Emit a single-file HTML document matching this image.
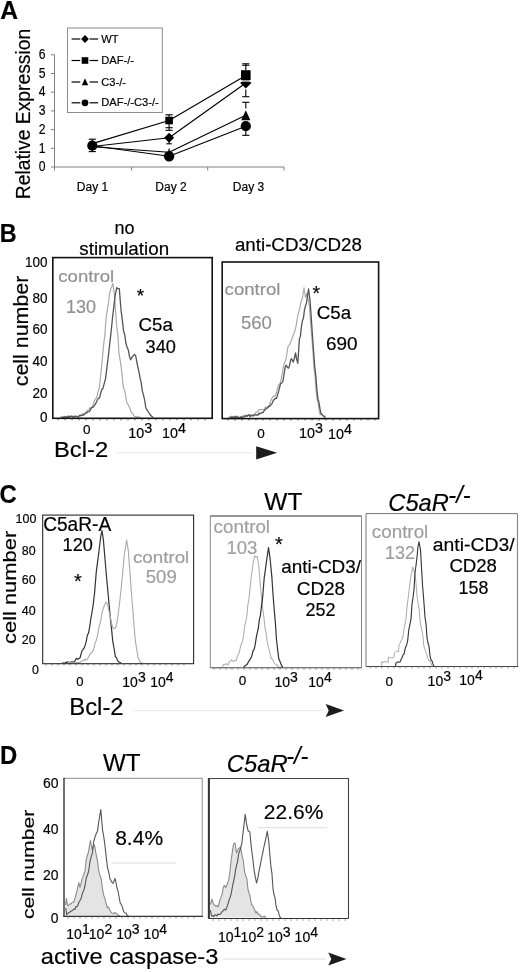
<!DOCTYPE html>
<html><head><meta charset="utf-8"><title>Figure</title>
<style>
html,body{margin:0;padding:0;background:#fff;}
svg{display:block;font-family:'Liberation Sans', sans-serif;}
</style></head><body>
<svg width="520" height="972" viewBox="0 0 520 972">
<rect x="0" y="0" width="520" height="972" fill="#fff"/>
<text transform="translate(0.2 18.8) scale(0.97 1)" font-size="25.4" fill="#000" stroke="#000" stroke-width="0.18" text-anchor="start" font-weight="bold" font-style="normal" >A</text>
<text transform="translate(29.6 114) rotate(-90) scale(0.985 1)" font-size="19.6" fill="#000" stroke="#000" stroke-width="0.18" text-anchor="middle">Relative Expression</text>
<line x1="54.5" y1="54.7" x2="54.5" y2="167" stroke="#808080" stroke-width="1" />
<line x1="54.5" y1="167" x2="284" y2="167" stroke="#808080" stroke-width="1" />
<line x1="51.0" y1="167.0" x2="54.5" y2="167.0" stroke="#808080" stroke-width="1" />
<text transform="translate(42.2 171.2) scale(0.87 1)" font-size="14" fill="#000" stroke="#000" stroke-width="0.18" text-anchor="middle" font-weight="normal" font-style="normal" >0</text>
<line x1="51.0" y1="148.3" x2="54.5" y2="148.3" stroke="#808080" stroke-width="1" />
<text transform="translate(42.2 152.5) scale(0.87 1)" font-size="14" fill="#000" stroke="#000" stroke-width="0.18" text-anchor="middle" font-weight="normal" font-style="normal" >1</text>
<line x1="51.0" y1="129.6" x2="54.5" y2="129.6" stroke="#808080" stroke-width="1" />
<text transform="translate(42.2 133.79999999999998) scale(0.87 1)" font-size="14" fill="#000" stroke="#000" stroke-width="0.18" text-anchor="middle" font-weight="normal" font-style="normal" >2</text>
<line x1="51.0" y1="110.9" x2="54.5" y2="110.9" stroke="#808080" stroke-width="1" />
<text transform="translate(42.2 115.10000000000001) scale(0.87 1)" font-size="14" fill="#000" stroke="#000" stroke-width="0.18" text-anchor="middle" font-weight="normal" font-style="normal" >3</text>
<line x1="51.0" y1="92.2" x2="54.5" y2="92.2" stroke="#808080" stroke-width="1" />
<text transform="translate(42.2 96.4) scale(0.87 1)" font-size="14" fill="#000" stroke="#000" stroke-width="0.18" text-anchor="middle" font-weight="normal" font-style="normal" >4</text>
<line x1="51.0" y1="73.5" x2="54.5" y2="73.5" stroke="#808080" stroke-width="1" />
<text transform="translate(42.2 77.7) scale(0.87 1)" font-size="14" fill="#000" stroke="#000" stroke-width="0.18" text-anchor="middle" font-weight="normal" font-style="normal" >5</text>
<line x1="51.0" y1="54.80000000000001" x2="54.5" y2="54.80000000000001" stroke="#808080" stroke-width="1" />
<text transform="translate(42.2 59.000000000000014) scale(0.87 1)" font-size="14" fill="#000" stroke="#000" stroke-width="0.18" text-anchor="middle" font-weight="normal" font-style="normal" >6</text>
<line x1="131.5" y1="167" x2="131.5" y2="170.5" stroke="#808080" stroke-width="1" />
<line x1="207.7" y1="167" x2="207.7" y2="170.5" stroke="#808080" stroke-width="1" />
<line x1="284" y1="167" x2="284" y2="170.5" stroke="#808080" stroke-width="1" />
<line x1="54.5" y1="167" x2="54.5" y2="170.5" stroke="#808080" stroke-width="1" />
<text x="92.5" y="191.2" font-size="12" fill="#000" stroke="#000" stroke-width="0.18" text-anchor="middle" font-weight="normal" font-style="normal" >Day 1</text>
<text x="171" y="191.2" font-size="12" fill="#000" stroke="#000" stroke-width="0.18" text-anchor="middle" font-weight="normal" font-style="normal" >Day 2</text>
<text x="248.5" y="191.2" font-size="12" fill="#000" stroke="#000" stroke-width="0.18" text-anchor="middle" font-weight="normal" font-style="normal" >Day 3</text>
<path d="M92.3 146.5 L169.1 137.7 L245.8 83.0" stroke="#000" stroke-width="1.15" fill="none" stroke-linejoin="round" />
<path d="M92.3 143.6 L169.1 120.5 L245.8 75.4" stroke="#000" stroke-width="1.15" fill="none" stroke-linejoin="round" />
<path d="M92.3 146.8 L169.1 152.3 L245.8 115.2" stroke="#000" stroke-width="1.15" fill="none" stroke-linejoin="round" />
<path d="M92.3 145.7 L169.1 156.2 L245.8 126.2" stroke="#000" stroke-width="1.15" fill="none" stroke-linejoin="round" />
<line x1="88.7" y1="139.2" x2="95.89999999999999" y2="139.2" stroke="#000" stroke-width="1.1" />
<line x1="88.7" y1="151.6" x2="95.89999999999999" y2="151.6" stroke="#000" stroke-width="1.1" />
<line x1="92.3" y1="139.2" x2="92.3" y2="151.6" stroke="#000" stroke-width="1.1" />
<line x1="165.5" y1="114.8" x2="172.7" y2="114.8" stroke="#000" stroke-width="1.1" />
<line x1="169.1" y1="114.8" x2="169.1" y2="117" stroke="#000" stroke-width="1.1" />
<line x1="165.5" y1="127.7" x2="172.7" y2="127.7" stroke="#000" stroke-width="1.1" />
<line x1="165.5" y1="130.3" x2="172.7" y2="130.3" stroke="#000" stroke-width="1.1" />
<line x1="169.1" y1="124" x2="169.1" y2="130.3" stroke="#000" stroke-width="1.1" />
<line x1="166.29999999999998" y1="143.8" x2="171.9" y2="143.8" stroke="#000" stroke-width="1.1" />
<line x1="169.1" y1="142" x2="169.1" y2="143.8" stroke="#000" stroke-width="1.1" />
<line x1="169.1" y1="148.6" x2="169.1" y2="151" stroke="#000" stroke-width="1.1" />
<line x1="242.20000000000002" y1="63.8" x2="249.4" y2="63.8" stroke="#000" stroke-width="1.1" />
<line x1="242.20000000000002" y1="65.3" x2="249.4" y2="65.3" stroke="#000" stroke-width="1.1" />
<line x1="245.8" y1="63.8" x2="245.8" y2="70" stroke="#000" stroke-width="1.1" />
<line x1="242.20000000000002" y1="96.7" x2="249.4" y2="96.7" stroke="#000" stroke-width="1.1" />
<line x1="245.8" y1="89.5" x2="245.8" y2="96.7" stroke="#000" stroke-width="1.1" />
<line x1="242.20000000000002" y1="102.3" x2="249.4" y2="102.3" stroke="#000" stroke-width="1.1" />
<line x1="245.8" y1="102.3" x2="245.8" y2="108.5" stroke="#000" stroke-width="1.1" />
<line x1="242.20000000000002" y1="135.3" x2="249.4" y2="135.3" stroke="#000" stroke-width="1.1" />
<line x1="245.8" y1="131" x2="245.8" y2="135.3" stroke="#000" stroke-width="1.1" />
<path d="M169.1 149.4 L173.5 159.0 L164.7 159.0 Z" stroke="none" stroke-width="1" fill="#000" stroke-linejoin="round" />
<path d="M245.8 110.2 L250.4 120.2 L241.2 120.2 Z" stroke="none" stroke-width="1" fill="#000" stroke-linejoin="round" />
<path d="M92.3 142.0 L96.8 146.5 L92.3 151.0 L87.8 146.5 Z" stroke="none" stroke-width="1" fill="#000" stroke-linejoin="round" />
<path d="M169.1 132.7 L174.1 137.7 L169.1 142.7 L164.1 137.7 Z" stroke="none" stroke-width="1" fill="#000" stroke-linejoin="round" />
<path d="M245.8 77.4 L251.4 83.0 L245.8 88.6 L240.2 83.0 Z" stroke="none" stroke-width="1" fill="#000" stroke-linejoin="round" />
<rect x="165.29999999999998" y="116.7" width="7.6" height="7.6" fill="#000" />
<rect x="241.0" y="70.2" width="9.6" height="10.2" fill="#000"/>
<rect x="239.8" y="80.4" width="12" height="1.2" fill="#fff"/>
<circle cx="92.3" cy="145.7" r="5.1" fill="#000"/>
<circle cx="169.1" cy="156.2" r="5.2" fill="#000"/>
<circle cx="245.8" cy="126.2" r="5.1" fill="#000"/>
<rect x="67.5" y="28" width="94.8" height="84.5" stroke="#8c8c8c" stroke-width="1" fill="#fff"/>
<line x1="71.6" y1="39" x2="80.3" y2="39" stroke="#000" stroke-width="1.2" />
<line x1="89.6" y1="39" x2="98.1" y2="39" stroke="#000" stroke-width="1.2" />
<path d="M85.0 35.1 L88.9 39.0 L85.0 42.9 L81.1 39.0 Z" stroke="none" stroke-width="1" fill="#000" stroke-linejoin="round" />
<text transform="translate(101.3 42.6) scale(1.05 1)" font-size="10.6" fill="#000" stroke="#000" stroke-width="0.18" text-anchor="start" font-weight="normal" font-style="normal" >WT</text>
<line x1="71.6" y1="60.5" x2="80.3" y2="60.5" stroke="#000" stroke-width="1.2" />
<line x1="89.6" y1="60.5" x2="98.1" y2="60.5" stroke="#000" stroke-width="1.2" />
<rect x="81.7" y="57.2" width="6.6" height="6.6" fill="#000" />
<text transform="translate(101.3 64) scale(1.05 1)" font-size="10.6" fill="#000" stroke="#000" stroke-width="0.18" text-anchor="start" font-weight="normal" font-style="normal" >DAF-/-</text>
<line x1="71.6" y1="82" x2="80.3" y2="82" stroke="#000" stroke-width="1.2" />
<line x1="89.6" y1="82" x2="98.1" y2="82" stroke="#000" stroke-width="1.2" />
<path d="M85.0 78.2 L88.2 85.2 L81.8 85.2 Z" stroke="none" stroke-width="1" fill="#000" stroke-linejoin="round" />
<text transform="translate(101.3 85.6) scale(1.05 1)" font-size="10.6" fill="#000" stroke="#000" stroke-width="0.18" text-anchor="start" font-weight="normal" font-style="normal" >C3-/-</text>
<line x1="71.6" y1="102.8" x2="80.3" y2="102.8" stroke="#000" stroke-width="1.2" />
<line x1="89.6" y1="102.8" x2="98.1" y2="102.8" stroke="#000" stroke-width="1.2" />
<circle cx="85" cy="102.8" r="3.4" fill="#000"/>
<text transform="translate(101.3 106.2) scale(1.05 1)" font-size="10.6" fill="#000" stroke="#000" stroke-width="0.18" text-anchor="start" font-weight="normal" font-style="normal" >DAF-/-C3-/-</text>
<text transform="translate(-0.2 242) scale(0.92 1)" font-size="25.4" fill="#000" stroke="#000" stroke-width="0.18" text-anchor="start" font-weight="bold" font-style="normal" >B</text>
<text x="124.4" y="233.6" font-size="18" fill="#000" stroke="#000" stroke-width="0.18" text-anchor="middle" font-weight="normal" font-style="normal" >no</text>
<text transform="translate(124.2 254.9) scale(1.045 1)" font-size="18" fill="#000" stroke="#000" stroke-width="0.18" text-anchor="middle" font-weight="normal" font-style="normal" >stimulation</text>
<text transform="translate(298.4 251.4) scale(1.04 1)" font-size="18" fill="#000" stroke="#000" stroke-width="0.18" text-anchor="middle" font-weight="normal" font-style="normal" >anti-CD3/CD28</text>
<text transform="translate(28.2 331) rotate(-90) scale(1.035 1)" font-size="20.7" fill="#000" stroke="#000" stroke-width="0.18" text-anchor="middle">cell number</text>
<text transform="translate(47.5 266.9) scale(0.98 1)" font-size="13.8" fill="#000" stroke="#000" stroke-width="0.18" text-anchor="end" font-weight="normal" font-style="normal" >100</text>
<text transform="translate(47.5 302.7) scale(0.98 1)" font-size="13.8" fill="#000" stroke="#000" stroke-width="0.18" text-anchor="end" font-weight="normal" font-style="normal" >80</text>
<text transform="translate(47.5 334.4) scale(0.98 1)" font-size="13.8" fill="#000" stroke="#000" stroke-width="0.18" text-anchor="end" font-weight="normal" font-style="normal" >60</text>
<text transform="translate(47.5 366.2) scale(0.98 1)" font-size="13.8" fill="#000" stroke="#000" stroke-width="0.18" text-anchor="end" font-weight="normal" font-style="normal" >40</text>
<text transform="translate(47.5 398.2) scale(0.98 1)" font-size="13.8" fill="#000" stroke="#000" stroke-width="0.18" text-anchor="end" font-weight="normal" font-style="normal" >20</text>
<text transform="translate(47.5 422.2) scale(0.98 1)" font-size="13.8" fill="#000" stroke="#000" stroke-width="0.18" text-anchor="end" font-weight="normal" font-style="normal" >0</text>
<path d="M60.0 417.3 L61.0 416.9 L62.0 416.5 L63.0 417.3 L64.0 416.2 L65.0 417.3 L66.0 416.9 L67.0 416.2 L68.0 417.2 L69.0 416.1 L70.0 417.0 L71.0 416.1 L72.1 416.1 L73.1 416.8 L74.2 417.3 L75.2 416.0 L76.3 416.1 L77.3 416.8 L78.4 417.2 L79.5 415.8 L80.6 414.9 L81.7 415.8 L82.7 413.3 L83.8 415.2 L84.8 413.5 L85.8 412.3 L86.8 411.0 L87.8 410.1 L88.8 410.1 L89.8 407.7 L90.8 408.4 L91.8 407.7 L92.9 404.9 L93.9 402.7 L95.0 399.4 L96.0 398.5 L97.1 395.9 L98.3 391.0 L99.4 387.3 L101.1 371.5 L102.4 358.3 L103.7 344.1 L104.9 335.1 L106.0 319.0 L107.2 310.1 L108.4 303.8 L109.5 294.2 L110.7 288.9 L111.8 286.7 L112.9 283.4 L114.6 295.3 L115.7 312.5 L116.7 326.0 L117.9 335.4 L119.0 353.5 L120.2 360.7 L121.3 368.0 L122.5 379.9 L123.6 387.9 L124.7 390.7 L125.8 396.3 L126.9 403.2 L128.0 404.4 L129.1 406.5 L130.2 409.3 L131.2 412.3 L132.3 413.3 L133.4 414.8 L134.4 416.4 L135.5 416.6 L136.6 417.3 L137.7 416.2 L138.8 417.3 L139.9 417.3 L141.0 417.3" stroke="#aaa" stroke-width="1.2" fill="none" stroke-linejoin="round" />
<path d="M62.0 417.3 L63.0 417.3 L64.0 417.3 L65.0 416.8 L66.0 417.0 L67.0 417.3 L68.0 416.1 L69.0 417.1 L70.0 416.4 L71.0 416.3 L72.0 416.1 L73.2 417.3 L74.5 416.2 L75.7 416.4 L76.9 416.7 L78.0 417.3 L79.1 415.5 L80.2 415.8 L81.2 415.3 L82.3 415.4 L83.4 414.7 L84.5 414.4 L85.6 412.9 L86.8 412.8 L87.9 411.8 L89.0 411.7 L90.2 410.6 L91.3 407.7 L92.5 407.4 L93.5 407.0 L94.5 405.4 L95.5 403.9 L96.5 402.0 L97.5 399.6 L98.5 398.4 L99.6 397.6 L100.7 393.2 L101.8 389.4 L102.9 388.6 L104.2 383.6 L105.5 378.8 L107.2 365.3 L108.5 355.0 L109.8 343.1 L111.1 332.2 L112.4 319.0 L113.7 307.9 L115.0 296.5 L116.7 287.7 L118.0 288.6 L119.3 288.7 L121.0 309.9 L122.3 319.8 L123.6 331.1 L124.8 335.3 L125.9 343.0 L127.1 347.3 L128.3 349.9 L129.4 356.2 L130.6 359.8 L131.8 357.5 L133.1 356.0 L134.4 354.5 L135.7 355.8 L137.5 365.3 L138.8 371.1 L140.1 378.2 L141.2 382.8 L142.4 391.4 L143.5 395.2 L144.7 400.4 L145.8 407.7 L147.0 409.9 L148.1 411.5 L149.3 413.5 L150.4 415.0 L151.7 416.3 L153.0 417.3" stroke="#555" stroke-width="1.3" fill="none" stroke-linejoin="round" />
<rect x="52.8" y="257.6" width="159.4" height="160.7" stroke="#111" stroke-width="1.6" fill="none"/>
<line x1="58" y1="418.3" x2="58" y2="420.3" stroke="#333" stroke-width="0.8" />
<line x1="65" y1="418.3" x2="65" y2="420.3" stroke="#333" stroke-width="0.8" />
<line x1="72" y1="418.3" x2="72" y2="420.3" stroke="#333" stroke-width="0.8" />
<line x1="79" y1="418.3" x2="79" y2="420.3" stroke="#333" stroke-width="0.8" />
<line x1="86" y1="418.3" x2="86" y2="420.3" stroke="#333" stroke-width="0.8" />
<line x1="93" y1="418.3" x2="93" y2="420.3" stroke="#333" stroke-width="0.8" />
<line x1="100" y1="418.3" x2="100" y2="420.3" stroke="#333" stroke-width="0.8" />
<line x1="107" y1="418.3" x2="107" y2="420.3" stroke="#333" stroke-width="0.8" />
<line x1="114" y1="418.3" x2="114" y2="420.3" stroke="#333" stroke-width="0.8" />
<line x1="121" y1="418.3" x2="121" y2="420.3" stroke="#333" stroke-width="0.8" />
<line x1="128" y1="418.3" x2="128" y2="420.3" stroke="#333" stroke-width="0.8" />
<line x1="135" y1="418.3" x2="135" y2="420.3" stroke="#333" stroke-width="0.8" />
<line x1="142" y1="418.3" x2="142" y2="420.3" stroke="#333" stroke-width="0.8" />
<line x1="149" y1="418.3" x2="149" y2="420.3" stroke="#333" stroke-width="0.8" />
<line x1="156" y1="418.3" x2="156" y2="420.3" stroke="#333" stroke-width="0.8" />
<line x1="163" y1="418.3" x2="163" y2="420.3" stroke="#333" stroke-width="0.8" />
<line x1="170" y1="418.3" x2="170" y2="420.3" stroke="#333" stroke-width="0.8" />
<line x1="177" y1="418.3" x2="177" y2="420.3" stroke="#333" stroke-width="0.8" />
<line x1="184" y1="418.3" x2="184" y2="420.3" stroke="#333" stroke-width="0.8" />
<line x1="191" y1="418.3" x2="191" y2="420.3" stroke="#333" stroke-width="0.8" />
<line x1="198" y1="418.3" x2="198" y2="420.3" stroke="#333" stroke-width="0.8" />
<line x1="205" y1="418.3" x2="205" y2="420.3" stroke="#333" stroke-width="0.8" />
<text transform="translate(58.3 281.7) scale(1.095 1)" font-size="17" fill="#919191" stroke="#919191" stroke-width="0.18" text-anchor="start" font-weight="normal" font-style="normal" >control</text>
<text transform="translate(66 312.5) scale(1.03 1)" font-size="17.5" fill="#919191" stroke="#919191" stroke-width="0.18" text-anchor="start" font-weight="normal" font-style="normal" >130</text>
<text x="136.8" y="301.8" font-size="19" fill="#000" stroke="#000" stroke-width="0.18" text-anchor="start" font-weight="normal" font-style="normal" >*</text>
<text transform="translate(138.6 331) scale(1.04 1)" font-size="18" fill="#000" stroke="#000" stroke-width="0.18" text-anchor="start" font-weight="normal" font-style="normal" >C5a</text>
<text transform="translate(145.6 353) scale(1.04 1)" font-size="17.5" fill="#000" stroke="#000" stroke-width="0.18" text-anchor="start" font-weight="normal" font-style="normal" >340</text>
<text x="86.8" y="433.8" font-size="13.5" fill="#000" stroke="#000" stroke-width="0.18" text-anchor="middle" font-weight="normal" font-style="normal" >0</text>
<text x="128.3" y="438" font-size="14.3" fill="#000" stroke="#000" stroke-width="0.18">10<tspan dy="-5" font-size="14.3">3</tspan></text>
<text x="162" y="438" font-size="14.3" fill="#000" stroke="#000" stroke-width="0.18">10<tspan dy="-5" font-size="14.3">4</tspan></text>
<path d="M228.0 417.6 L229.0 416.9 L230.0 417.8 L231.0 416.6 L232.0 416.1 L233.0 417.8 L234.0 417.4 L235.0 416.2 L236.0 417.3 L237.0 415.8 L238.0 417.1 L239.0 417.8 L240.0 417.8 L241.0 417.5 L242.0 416.1 L243.0 416.2 L244.0 415.3 L245.0 416.7 L246.0 415.8 L247.0 416.3 L248.0 415.0 L249.0 414.6 L250.0 415.9 L251.0 415.9 L252.0 415.0 L253.0 414.5 L254.0 414.4 L255.0 414.0 L256.0 412.1 L257.0 412.2 L258.0 411.1 L259.0 409.7 L260.0 409.5 L261.1 410.0 L262.2 409.3 L263.3 409.6 L264.4 409.3 L265.5 406.9 L266.6 407.7 L267.7 407.6 L268.7 406.9 L269.8 403.5 L270.8 400.8 L271.8 398.5 L272.9 396.7 L273.9 396.1 L274.9 396.3 L275.9 394.5 L276.9 390.9 L278.0 386.4 L279.0 384.4 L280.0 383.8 L281.2 378.7 L282.4 372.6 L283.5 365.7 L284.7 362.2 L285.9 359.6 L287.0 352.8 L288.1 346.0 L289.3 345.2 L290.5 342.3 L291.6 339.8 L292.8 336.5 L294.0 333.3 L295.1 330.4 L296.3 324.9 L297.5 317.2 L298.6 312.7 L299.6 309.1 L300.7 302.2 L301.7 300.8 L302.9 295.2 L304.0 287.9 L305.5 297.5 L307.0 293.3 L308.2 299.4 L309.4 305.5 L310.5 321.4 L311.7 335.7 L312.9 350.8 L314.0 368.9 L315.0 375.7 L316.1 390.8 L317.1 399.7 L318.1 402.2 L319.2 411.1 L320.2 414.8 L321.4 413.6 L322.5 415.1 L323.6 416.6 L324.8 417.7" stroke="#aaa" stroke-width="1.2" fill="none" stroke-linejoin="round" />
<path d="M230.0 417.6 L231.0 417.0 L232.0 417.8 L233.0 416.9 L234.0 417.3 L235.0 416.5 L236.0 417.8 L237.0 416.9 L238.0 417.0 L239.0 417.3 L240.0 417.8 L241.0 416.8 L242.0 417.8 L243.0 417.0 L244.0 416.9 L245.0 416.7 L246.0 415.3 L247.0 416.2 L248.0 415.4 L249.0 414.8 L250.0 416.7 L251.0 415.1 L252.0 415.7 L253.0 416.0 L254.0 415.4 L255.0 414.6 L256.0 415.0 L257.0 415.0 L258.0 415.1 L259.0 413.1 L260.0 414.0 L261.0 413.1 L262.1 412.5 L263.1 412.6 L264.1 410.7 L265.2 409.5 L266.2 408.7 L267.2 408.1 L268.3 406.3 L269.3 406.5 L270.3 405.7 L271.3 404.3 L272.4 402.8 L273.4 400.3 L274.4 399.1 L275.4 398.4 L276.4 398.5 L277.5 395.1 L278.5 391.7 L279.5 387.9 L280.6 383.5 L281.6 383.1 L282.8 381.6 L283.9 375.3 L285.1 367.6 L286.2 365.1 L287.4 367.4 L288.5 368.1 L289.5 365.8 L290.6 360.0 L291.6 358.7 L293.2 362.1 L294.4 358.5 L295.5 352.9 L296.6 358.9 L297.8 363.4 L299.4 338.9 L300.4 336.1 L301.4 327.0 L302.4 320.6 L303.4 318.5 L304.5 309.5 L305.5 305.9 L306.5 303.0 L307.6 294.5 L308.6 288.9 L310.2 302.6 L311.4 319.8 L312.5 336.3 L313.6 351.4 L314.8 367.2 L315.8 375.9 L316.9 389.6 L317.9 398.6 L318.9 402.2 L320.0 408.9 L321.0 413.5 L322.1 414.8 L323.2 415.8 L324.4 416.1 L325.5 417.7" stroke="#555" stroke-width="1.3" fill="none" stroke-linejoin="round" />
<rect x="222.2" y="262" width="156.4" height="156.6" stroke="#111" stroke-width="1.6" fill="none"/>
<line x1="228" y1="418.6" x2="228" y2="420.6" stroke="#333" stroke-width="0.8" />
<line x1="235" y1="418.6" x2="235" y2="420.6" stroke="#333" stroke-width="0.8" />
<line x1="242" y1="418.6" x2="242" y2="420.6" stroke="#333" stroke-width="0.8" />
<line x1="249" y1="418.6" x2="249" y2="420.6" stroke="#333" stroke-width="0.8" />
<line x1="256" y1="418.6" x2="256" y2="420.6" stroke="#333" stroke-width="0.8" />
<line x1="263" y1="418.6" x2="263" y2="420.6" stroke="#333" stroke-width="0.8" />
<line x1="270" y1="418.6" x2="270" y2="420.6" stroke="#333" stroke-width="0.8" />
<line x1="277" y1="418.6" x2="277" y2="420.6" stroke="#333" stroke-width="0.8" />
<line x1="284" y1="418.6" x2="284" y2="420.6" stroke="#333" stroke-width="0.8" />
<line x1="291" y1="418.6" x2="291" y2="420.6" stroke="#333" stroke-width="0.8" />
<line x1="298" y1="418.6" x2="298" y2="420.6" stroke="#333" stroke-width="0.8" />
<line x1="305" y1="418.6" x2="305" y2="420.6" stroke="#333" stroke-width="0.8" />
<line x1="312" y1="418.6" x2="312" y2="420.6" stroke="#333" stroke-width="0.8" />
<line x1="319" y1="418.6" x2="319" y2="420.6" stroke="#333" stroke-width="0.8" />
<line x1="326" y1="418.6" x2="326" y2="420.6" stroke="#333" stroke-width="0.8" />
<line x1="333" y1="418.6" x2="333" y2="420.6" stroke="#333" stroke-width="0.8" />
<line x1="340" y1="418.6" x2="340" y2="420.6" stroke="#333" stroke-width="0.8" />
<line x1="347" y1="418.6" x2="347" y2="420.6" stroke="#333" stroke-width="0.8" />
<line x1="354" y1="418.6" x2="354" y2="420.6" stroke="#333" stroke-width="0.8" />
<line x1="361" y1="418.6" x2="361" y2="420.6" stroke="#333" stroke-width="0.8" />
<line x1="368" y1="418.6" x2="368" y2="420.6" stroke="#333" stroke-width="0.8" />
<line x1="375" y1="418.6" x2="375" y2="420.6" stroke="#333" stroke-width="0.8" />
<text transform="translate(224.6 295.4) scale(1.095 1)" font-size="17" fill="#919191" stroke="#919191" stroke-width="0.18" text-anchor="start" font-weight="normal" font-style="normal" >control</text>
<text transform="translate(241 329.4) scale(1.06 1)" font-size="17.5" fill="#919191" stroke="#919191" stroke-width="0.18" text-anchor="start" font-weight="normal" font-style="normal" >560</text>
<text x="312.5" y="300" font-size="19.5" fill="#000" stroke="#000" stroke-width="0.18" text-anchor="start" font-weight="normal" font-style="normal" >*</text>
<text transform="translate(316.8 318.5) scale(1.04 1)" font-size="18" fill="#000" stroke="#000" stroke-width="0.18" text-anchor="start" font-weight="normal" font-style="normal" >C5a</text>
<text transform="translate(326 350) scale(1.08 1)" font-size="17.5" fill="#000" stroke="#000" stroke-width="0.18" text-anchor="start" font-weight="normal" font-style="normal" >690</text>
<text x="261" y="438" font-size="13.5" fill="#000" stroke="#000" stroke-width="0.18" text-anchor="middle" font-weight="normal" font-style="normal" >0</text>
<text x="299" y="438" font-size="14.3" fill="#000" stroke="#000" stroke-width="0.18">10<tspan dy="-5" font-size="14.3">3</tspan></text>
<text x="328" y="439" font-size="14.3" fill="#000" stroke="#000" stroke-width="0.18">10<tspan dy="-5" font-size="14.3">4</tspan></text>
<text transform="translate(54 457.3) scale(1.1 1)" font-size="21.6" fill="#000" stroke="#000" stroke-width="0.18" text-anchor="start" font-weight="normal" font-style="normal" >Bcl-2</text>
<line x1="116" y1="452.8" x2="253.2" y2="452.8" stroke="#e6e6e6" stroke-width="1" />
<path d="M277.2 452.8 L256.2 446.2 L256.2 452.8 L256.2 459.4 Z" stroke="none" stroke-width="1" fill="#1c1c1c" stroke-linejoin="round" />
<text transform="translate(-0.5 502.8) scale(0.94 1)" font-size="25.4" fill="#000" stroke="#000" stroke-width="0.18" text-anchor="start" font-weight="bold" font-style="normal" >C</text>
<text transform="translate(16.4 587.4) rotate(-90) scale(1.245 1)" font-size="17.6" fill="#000" stroke="#000" stroke-width="0.18" text-anchor="middle">cell number</text>
<text transform="translate(36.3 522.9) scale(0.93 1)" font-size="13.4" fill="#000" stroke="#000" stroke-width="0.18" text-anchor="end" font-weight="normal" font-style="normal" >100</text>
<text transform="translate(35.6 555.1999999999999) scale(0.93 1)" font-size="13.4" fill="#000" stroke="#000" stroke-width="0.18" text-anchor="end" font-weight="normal" font-style="normal" >80</text>
<text transform="translate(35.6 583.8) scale(0.93 1)" font-size="13.4" fill="#000" stroke="#000" stroke-width="0.18" text-anchor="end" font-weight="normal" font-style="normal" >60</text>
<text transform="translate(35.6 615.4) scale(0.93 1)" font-size="13.4" fill="#000" stroke="#000" stroke-width="0.18" text-anchor="end" font-weight="normal" font-style="normal" >40</text>
<text transform="translate(35.6 643.5) scale(0.93 1)" font-size="13.4" fill="#000" stroke="#000" stroke-width="0.18" text-anchor="end" font-weight="normal" font-style="normal" >20</text>
<text transform="translate(38.8 674.1999999999999) scale(0.93 1)" font-size="13.4" fill="#000" stroke="#000" stroke-width="0.18" text-anchor="end" font-weight="normal" font-style="normal" >0</text>
<path d="M62.0 663.0 L63.0 663.0 L64.1 663.0 L65.2 663.0 L66.2 662.1 L67.2 662.3 L68.3 661.8 L69.4 663.0 L70.4 662.2 L71.5 661.8 L72.6 661.9 L73.6 662.2 L74.7 661.2 L75.8 659.2 L76.8 658.3 L77.9 659.4 L79.0 658.5 L80.0 657.8 L81.1 654.0 L82.1 650.7 L83.2 649.4 L84.2 647.9 L85.3 644.9 L86.3 641.1 L87.4 635.0 L88.5 633.1 L89.7 626.9 L90.8 618.9 L92.0 612.5 L93.3 603.8 L94.6 592.6 L96.3 571.6 L97.6 561.6 L98.9 552.0 L100.7 536.8 L102.0 530.5 L103.3 539.1 L104.3 550.6 L105.3 562.5 L106.4 575.6 L107.6 588.3 L108.9 602.5 L110.2 616.5 L111.5 628.6 L112.8 641.6 L114.1 648.5 L115.4 656.7 L116.5 657.6 L117.7 660.9 L118.8 661.7 L119.9 662.4 L121.0 663.0" stroke="#333" stroke-width="1.2" fill="none" stroke-linejoin="round" />
<path d="M68.0 663.0 L69.0 662.0 L70.1 663.0 L71.1 663.0 L72.1 662.3 L73.2 662.8 L74.2 663.0 L75.2 661.9 L76.3 663.0 L77.3 662.6 L78.4 662.6 L79.5 662.9 L80.6 661.4 L81.7 661.0 L82.7 660.7 L83.8 660.8 L84.9 659.1 L86.0 660.0 L87.0 659.3 L88.0 658.0 L89.0 656.1 L90.0 654.4 L91.0 652.7 L92.0 652.5 L93.1 650.6 L94.2 647.6 L95.2 642.4 L96.3 640.4 L97.5 635.9 L98.6 628.8 L99.8 624.5 L100.8 620.7 L101.9 613.0 L102.9 609.5 L104.3 605.7 L105.8 602.1 L107.6 604.1 L108.9 610.7 L110.2 616.4 L111.5 623.0 L112.8 628.2 L113.9 628.2 L115.0 628.5 L116.0 626.5 L117.1 621.7 L118.4 612.3 L119.7 602.0 L121.0 589.8 L122.3 577.0 L123.3 565.9 L124.4 554.0 L125.5 547.7 L126.6 539.8 L128.3 550.6 L130.1 574.6 L131.4 592.5 L132.7 609.1 L134.0 624.6 L135.3 640.7 L136.6 648.4 L137.9 656.9 L139.2 659.8 L140.4 663.0 L141.7 663.0 L143.0 663.0" stroke="#aaa" stroke-width="1.1" fill="none" stroke-linejoin="round" />
<rect x="42.7" y="515.1" width="150.9" height="148.6" stroke="#2a2a2a" stroke-width="1.1" fill="none"/>
<line x1="46" y1="663.5" x2="46" y2="665.5" stroke="#555" stroke-width="0.7" />
<line x1="52" y1="663.5" x2="52" y2="665.5" stroke="#555" stroke-width="0.7" />
<line x1="58" y1="663.5" x2="58" y2="665.5" stroke="#555" stroke-width="0.7" />
<line x1="64" y1="663.5" x2="64" y2="665.5" stroke="#555" stroke-width="0.7" />
<line x1="70" y1="663.5" x2="70" y2="665.5" stroke="#555" stroke-width="0.7" />
<line x1="76" y1="663.5" x2="76" y2="665.5" stroke="#555" stroke-width="0.7" />
<line x1="82" y1="663.5" x2="82" y2="665.5" stroke="#555" stroke-width="0.7" />
<line x1="88" y1="663.5" x2="88" y2="665.5" stroke="#555" stroke-width="0.7" />
<line x1="94" y1="663.5" x2="94" y2="665.5" stroke="#555" stroke-width="0.7" />
<line x1="100" y1="663.5" x2="100" y2="665.5" stroke="#555" stroke-width="0.7" />
<line x1="106" y1="663.5" x2="106" y2="665.5" stroke="#555" stroke-width="0.7" />
<line x1="112" y1="663.5" x2="112" y2="665.5" stroke="#555" stroke-width="0.7" />
<line x1="118" y1="663.5" x2="118" y2="665.5" stroke="#555" stroke-width="0.7" />
<line x1="124" y1="663.5" x2="124" y2="665.5" stroke="#555" stroke-width="0.7" />
<line x1="130" y1="663.5" x2="130" y2="665.5" stroke="#555" stroke-width="0.7" />
<line x1="136" y1="663.5" x2="136" y2="665.5" stroke="#555" stroke-width="0.7" />
<line x1="142" y1="663.5" x2="142" y2="665.5" stroke="#555" stroke-width="0.7" />
<line x1="148" y1="663.5" x2="148" y2="665.5" stroke="#555" stroke-width="0.7" />
<line x1="154" y1="663.5" x2="154" y2="665.5" stroke="#555" stroke-width="0.7" />
<line x1="160" y1="663.5" x2="160" y2="665.5" stroke="#555" stroke-width="0.7" />
<line x1="166" y1="663.5" x2="166" y2="665.5" stroke="#555" stroke-width="0.7" />
<line x1="172" y1="663.5" x2="172" y2="665.5" stroke="#555" stroke-width="0.7" />
<line x1="178" y1="663.5" x2="178" y2="665.5" stroke="#555" stroke-width="0.7" />
<line x1="184" y1="663.5" x2="184" y2="665.5" stroke="#555" stroke-width="0.7" />
<text transform="translate(43.2 530.7) scale(0.98 1)" font-size="19.5" fill="#000" stroke="#000" stroke-width="0.18" text-anchor="start" font-weight="normal" font-style="normal" >C5aR-A</text>
<text transform="translate(62.6 550.8) scale(1.01 1)" font-size="18" fill="#000" stroke="#000" stroke-width="0.18" text-anchor="start" font-weight="normal" font-style="normal" >120</text>
<text x="74" y="588" font-size="20" fill="#000" stroke="#000" stroke-width="0.18" text-anchor="start" font-weight="normal" font-style="normal" >*</text>
<text transform="translate(132.9 562.5) scale(1.105 1)" font-size="17" fill="#9e9e9e" stroke="#9e9e9e" stroke-width="0.18" text-anchor="start" font-weight="normal" font-style="normal" >control</text>
<text transform="translate(145.8 583.2) scale(1.06 1)" font-size="17.5" fill="#9e9e9e" stroke="#9e9e9e" stroke-width="0.18" text-anchor="start" font-weight="normal" font-style="normal" >509</text>
<text x="79.8" y="685.5" font-size="13" fill="#000" stroke="#000" stroke-width="0.18" text-anchor="middle" font-weight="normal" font-style="normal" >0</text>
<text x="122.3" y="686.5" font-size="14" fill="#000" stroke="#000" stroke-width="0.18">10<tspan dy="-5" font-size="14">3</tspan></text>
<text x="150.2" y="686.5" font-size="14" fill="#000" stroke="#000" stroke-width="0.18">10<tspan dy="-5" font-size="14">4</tspan></text>
<text transform="translate(283.4 509.8) scale(1.02 1)" font-size="24" fill="#000" stroke="#000" stroke-width="0.18" text-anchor="middle" font-weight="normal" font-style="normal" >WT</text>
<path d="M222.7 667.3 L223.3 664.5 L224.4 664.8 L225.5 664.0 L226.6 663.8 L227.7 664.8 L228.8 663.4 L229.4 661.2 L230.5 661.0 L231.5 660.0 L232.6 661.1 L233.7 661.1 L234.7 660.6 L235.8 660.8 L236.9 658.2 L238.1 654.4 L239.4 652.0 L240.6 645.8 L241.9 643.2 L243.2 637.8 L244.5 627.1 L245.8 621.3 L246.8 616.4 L247.8 605.3 L248.8 599.9 L250.0 588.4 L251.2 577.3 L252.2 569.8 L253.2 562.5 L254.7 555.9 L256.0 557.0 L257.3 556.6 L258.8 566.0 L260.4 586.0 L261.5 597.6 L262.7 608.8 L263.9 617.3 L265.0 627.8 L266.0 632.3 L267.1 641.2 L268.1 645.9 L269.1 649.1 L270.2 654.3 L271.2 658.5 L272.5 659.2 L273.7 662.0 L275.0 663.8 L276.1 665.0 L277.3 665.1 L278.5 667.0 L279.6 667.5 L280.7 667.1 L281.9 667.2 L283.0 667.5" stroke="#b0b0b0" stroke-width="1.1" fill="none" stroke-linejoin="round" />
<path d="M243.5 667.3 L244.7 666.1 L245.8 665.3 L247.0 664.6 L248.1 662.5 L249.2 660.6 L250.4 658.9 L251.7 656.3 L252.9 651.1 L254.2 649.2 L255.2 644.7 L256.3 637.4 L257.3 632.7 L258.3 628.2 L259.4 619.3 L260.4 615.3 L261.5 606.1 L262.7 596.8 L264.2 577.8 L265.4 569.7 L266.5 561.1 L267.5 554.6 L268.5 547.5 L270.1 558.7 L271.9 577.6 L273.0 594.2 L274.2 609.5 L275.4 623.4 L276.5 639.5 L277.6 649.4 L278.8 658.8 L280.0 661.5 L281.2 664.6 L282.7 667.3" stroke="#333" stroke-width="1.2" fill="none" stroke-linejoin="round" />
<path d="M210.3 667.8 L210.3 516 L361.5 516 L361.5 667.8" stroke="#8a8a8a" stroke-width="1" fill="none"/>
<line x1="210.3" y1="516" x2="361.5" y2="516" stroke="#666" stroke-width="1.2" />
<line x1="210.3" y1="667.8" x2="361.5" y2="667.8" stroke="#444" stroke-width="1" />
<line x1="214" y1="667.8" x2="214" y2="669.8" stroke="#666" stroke-width="0.7" />
<line x1="220" y1="667.8" x2="220" y2="669.8" stroke="#666" stroke-width="0.7" />
<line x1="226" y1="667.8" x2="226" y2="669.8" stroke="#666" stroke-width="0.7" />
<line x1="232" y1="667.8" x2="232" y2="669.8" stroke="#666" stroke-width="0.7" />
<line x1="238" y1="667.8" x2="238" y2="669.8" stroke="#666" stroke-width="0.7" />
<line x1="244" y1="667.8" x2="244" y2="669.8" stroke="#666" stroke-width="0.7" />
<line x1="250" y1="667.8" x2="250" y2="669.8" stroke="#666" stroke-width="0.7" />
<line x1="256" y1="667.8" x2="256" y2="669.8" stroke="#666" stroke-width="0.7" />
<line x1="262" y1="667.8" x2="262" y2="669.8" stroke="#666" stroke-width="0.7" />
<line x1="268" y1="667.8" x2="268" y2="669.8" stroke="#666" stroke-width="0.7" />
<line x1="274" y1="667.8" x2="274" y2="669.8" stroke="#666" stroke-width="0.7" />
<line x1="280" y1="667.8" x2="280" y2="669.8" stroke="#666" stroke-width="0.7" />
<line x1="286" y1="667.8" x2="286" y2="669.8" stroke="#666" stroke-width="0.7" />
<line x1="292" y1="667.8" x2="292" y2="669.8" stroke="#666" stroke-width="0.7" />
<line x1="298" y1="667.8" x2="298" y2="669.8" stroke="#666" stroke-width="0.7" />
<line x1="304" y1="667.8" x2="304" y2="669.8" stroke="#666" stroke-width="0.7" />
<line x1="310" y1="667.8" x2="310" y2="669.8" stroke="#666" stroke-width="0.7" />
<line x1="316" y1="667.8" x2="316" y2="669.8" stroke="#666" stroke-width="0.7" />
<line x1="322" y1="667.8" x2="322" y2="669.8" stroke="#666" stroke-width="0.7" />
<line x1="328" y1="667.8" x2="328" y2="669.8" stroke="#666" stroke-width="0.7" />
<line x1="334" y1="667.8" x2="334" y2="669.8" stroke="#666" stroke-width="0.7" />
<line x1="340" y1="667.8" x2="340" y2="669.8" stroke="#666" stroke-width="0.7" />
<line x1="346" y1="667.8" x2="346" y2="669.8" stroke="#666" stroke-width="0.7" />
<line x1="352" y1="667.8" x2="352" y2="669.8" stroke="#666" stroke-width="0.7" />
<line x1="358" y1="667.8" x2="358" y2="669.8" stroke="#666" stroke-width="0.7" />
<text transform="translate(213.6 532.6) scale(1.075 1)" font-size="17.5" fill="#a0a0a0" stroke="#a0a0a0" stroke-width="0.18" text-anchor="start" font-weight="normal" font-style="normal" >control</text>
<text transform="translate(226.4 553.5) scale(1.065 1)" font-size="17.5" fill="#a0a0a0" stroke="#a0a0a0" stroke-width="0.18" text-anchor="start" font-weight="normal" font-style="normal" >103</text>
<text x="275" y="551" font-size="20" fill="#000" stroke="#000" stroke-width="0.18" text-anchor="start" font-weight="normal" font-style="normal" >*</text>
<text transform="translate(281.2 573.4) scale(1.028 1)" font-size="18.4" fill="#000" stroke="#000" stroke-width="0.18" text-anchor="start" font-weight="normal" font-style="normal" >anti-CD3/</text>
<text transform="translate(296.8 594.8) scale(1.025 1)" font-size="18.4" fill="#000" stroke="#000" stroke-width="0.18" text-anchor="start" font-weight="normal" font-style="normal" >CD28</text>
<text transform="translate(305.4 616) scale(1.0 1)" font-size="18" fill="#000" stroke="#000" stroke-width="0.18" text-anchor="start" font-weight="normal" font-style="normal" >252</text>
<text x="242.5" y="685" font-size="13.5" fill="#000" stroke="#000" stroke-width="0.18" text-anchor="middle" font-weight="normal" font-style="normal" >0</text>
<text x="274.5" y="686.5" font-size="14" fill="#000" stroke="#000" stroke-width="0.18">10<tspan dy="-5" font-size="14">3</tspan></text>
<text x="308.3" y="686.5" font-size="14" fill="#000" stroke="#000" stroke-width="0.18">10<tspan dy="-5" font-size="14">4</tspan></text>
<text transform="translate(388.3 510.9) scale(0.968 1)" font-size="24.5" font-style="italic" stroke="#000" stroke-width="0.18">C5aR</text><text transform="translate(448.3 502.5) scale(1.0 1)" font-size="23.5" font-style="italic" stroke="#000" stroke-width="0.18">-/-</text>
<path d="M381.5 666.5 L382.0 661.4 L383.0 662.9 L384.0 661.4 L385.0 662.2 L386.0 661.3 L387.0 662.0 L388.0 662.9 L388.5 656.8 L389.6 658.1 L390.7 657.5 L391.8 658.3 L392.9 657.9 L394.0 657.0 L394.5 652.8 L395.5 652.0 L396.5 651.0 L397.5 651.0 L398.5 652.0 L399.0 644.9 L400.0 643.4 L401.0 640.5 L402.0 639.7 L403.0 635.9 L404.0 629.4 L405.0 624.0 L406.0 619.3 L407.0 606.9 L408.0 599.2 L409.2 589.9 L410.5 578.4 L411.6 573.4 L412.7 566.8 L413.9 570.8 L415.0 574.8 L416.0 583.0 L417.0 596.2 L418.0 602.7 L419.2 609.6 L420.3 622.8 L421.5 629.1 L422.7 634.2 L423.8 645.7 L425.0 649.6 L426.0 652.5 L427.0 655.0 L428.0 658.9 L429.0 661.0 L430.1 661.2 L431.2 663.5 L432.4 666.5 L433.5 666.5" stroke="#aaa" stroke-width="1" fill="none" stroke-linejoin="round" />
<path d="M395.4 666.5 L396.0 662.8 L397.0 662.5 L398.0 661.8 L399.0 662.0 L400.0 661.9 L401.0 659.8 L402.0 657.7 L403.0 655.1 L404.2 653.7 L405.3 647.7 L406.5 645.5 L407.7 640.3 L408.8 629.6 L410.0 624.1 L411.0 619.1 L412.0 604.0 L413.0 597.9 L414.0 589.4 L415.0 572.8 L416.0 565.5 L417.0 557.0 L418.0 546.5 L419.0 541.9 L420.5 549.6 L421.5 567.6 L422.5 584.8 L423.8 600.8 L425.0 617.3 L426.0 623.7 L427.0 637.6 L428.0 643.0 L429.0 646.4 L430.0 655.8 L431.0 660.0 L432.0 660.8 L433.0 663.9 L434.0 666.5" stroke="#333" stroke-width="1.1" fill="none" stroke-linejoin="round" />
<path d="M366 666.5 L366 513.6 L517.4 513.6 L517.4 666.5" stroke="#777" stroke-width="1" fill="none"/>
<line x1="366" y1="666.5" x2="518.3" y2="666.5" stroke="#444" stroke-width="1" />
<line x1="370" y1="666.5" x2="370" y2="668.5" stroke="#666" stroke-width="0.7" />
<line x1="376" y1="666.5" x2="376" y2="668.5" stroke="#666" stroke-width="0.7" />
<line x1="382" y1="666.5" x2="382" y2="668.5" stroke="#666" stroke-width="0.7" />
<line x1="388" y1="666.5" x2="388" y2="668.5" stroke="#666" stroke-width="0.7" />
<line x1="394" y1="666.5" x2="394" y2="668.5" stroke="#666" stroke-width="0.7" />
<line x1="400" y1="666.5" x2="400" y2="668.5" stroke="#666" stroke-width="0.7" />
<line x1="406" y1="666.5" x2="406" y2="668.5" stroke="#666" stroke-width="0.7" />
<line x1="412" y1="666.5" x2="412" y2="668.5" stroke="#666" stroke-width="0.7" />
<line x1="418" y1="666.5" x2="418" y2="668.5" stroke="#666" stroke-width="0.7" />
<line x1="424" y1="666.5" x2="424" y2="668.5" stroke="#666" stroke-width="0.7" />
<line x1="430" y1="666.5" x2="430" y2="668.5" stroke="#666" stroke-width="0.7" />
<line x1="436" y1="666.5" x2="436" y2="668.5" stroke="#666" stroke-width="0.7" />
<line x1="442" y1="666.5" x2="442" y2="668.5" stroke="#666" stroke-width="0.7" />
<line x1="448" y1="666.5" x2="448" y2="668.5" stroke="#666" stroke-width="0.7" />
<line x1="454" y1="666.5" x2="454" y2="668.5" stroke="#666" stroke-width="0.7" />
<line x1="460" y1="666.5" x2="460" y2="668.5" stroke="#666" stroke-width="0.7" />
<line x1="466" y1="666.5" x2="466" y2="668.5" stroke="#666" stroke-width="0.7" />
<line x1="472" y1="666.5" x2="472" y2="668.5" stroke="#666" stroke-width="0.7" />
<line x1="478" y1="666.5" x2="478" y2="668.5" stroke="#666" stroke-width="0.7" />
<line x1="484" y1="666.5" x2="484" y2="668.5" stroke="#666" stroke-width="0.7" />
<line x1="490" y1="666.5" x2="490" y2="668.5" stroke="#666" stroke-width="0.7" />
<line x1="496" y1="666.5" x2="496" y2="668.5" stroke="#666" stroke-width="0.7" />
<line x1="502" y1="666.5" x2="502" y2="668.5" stroke="#666" stroke-width="0.7" />
<line x1="508" y1="666.5" x2="508" y2="668.5" stroke="#666" stroke-width="0.7" />
<line x1="514" y1="666.5" x2="514" y2="668.5" stroke="#666" stroke-width="0.7" />
<text transform="translate(371.8 537.6) scale(1.046 1)" font-size="18" fill="#9e9e9e" stroke="#9e9e9e" stroke-width="0.18" text-anchor="start" font-weight="normal" font-style="normal" >control</text>
<text transform="translate(385 559) scale(1.025 1)" font-size="17.5" fill="#9e9e9e" stroke="#9e9e9e" stroke-width="0.18" text-anchor="start" font-weight="normal" font-style="normal" >132</text>
<text transform="translate(432.8 551) scale(1.047 1)" font-size="18.5" fill="#000" stroke="#000" stroke-width="0.18" text-anchor="start" font-weight="normal" font-style="normal" >anti-CD3/</text>
<text transform="translate(449.4 572.2) scale(1.006 1)" font-size="18.5" fill="#000" stroke="#000" stroke-width="0.18" text-anchor="start" font-weight="normal" font-style="normal" >CD28</text>
<text transform="translate(458.6 594.1) scale(0.975 1)" font-size="18.3" fill="#000" stroke="#000" stroke-width="0.18" text-anchor="start" font-weight="normal" font-style="normal" >158</text>
<text x="389.3" y="686" font-size="13.5" fill="#000" stroke="#000" stroke-width="0.18" text-anchor="middle" font-weight="normal" font-style="normal" >0</text>
<text x="427.6" y="685.7" font-size="14" fill="#000" stroke="#000" stroke-width="0.18">10<tspan dy="-5" font-size="14">3</tspan></text>
<text x="459.3" y="685.4" font-size="14" fill="#000" stroke="#000" stroke-width="0.18">10<tspan dy="-5" font-size="14">4</tspan></text>
<text transform="translate(69.2 715.3) scale(1.04 1)" font-size="23" fill="#000" stroke="#000" stroke-width="0.18" text-anchor="start" font-weight="normal" font-style="normal" >Bcl-2</text>
<line x1="133.5" y1="710.5" x2="322.7" y2="710.5" stroke="#ebebeb" stroke-width="1" />
<path d="M344.0 710.5 L325.7 704.0 L328.7 710.5 L325.7 717.0 Z" stroke="none" stroke-width="1" fill="#1c1c1c" stroke-linejoin="round" />
<text transform="translate(0.0 763.7) scale(0.94 1)" font-size="25.4" fill="#000" stroke="#000" stroke-width="0.18" text-anchor="start" font-weight="bold" font-style="normal" >D</text>
<text x="121.7" y="771" font-size="24.2" fill="#000" stroke="#000" stroke-width="0.18" text-anchor="middle" font-weight="normal" font-style="normal" >WT</text>
<text transform="translate(226.8 772.4) scale(1.0 1)" font-size="23.8" font-style="italic" stroke="#000" stroke-width="0.18">C5aR<tspan dy="-8.6" dx="-1.4" font-size="23.5">-/-</tspan></text>
<text transform="translate(34.4 864.4) rotate(-90) scale(1.245 1)" font-size="17" fill="#000" stroke="#000" stroke-width="0.18" text-anchor="middle">cell number</text>
<text transform="translate(58.6 788.4) scale(0.97 1)" font-size="14.4" fill="#000" stroke="#000" stroke-width="0.18" text-anchor="end" font-weight="normal" font-style="normal" >60</text>
<text transform="translate(58.6 833.7) scale(0.97 1)" font-size="14.4" fill="#000" stroke="#000" stroke-width="0.18" text-anchor="end" font-weight="normal" font-style="normal" >40</text>
<text transform="translate(58.6 879.7) scale(0.97 1)" font-size="14.4" fill="#000" stroke="#000" stroke-width="0.18" text-anchor="end" font-weight="normal" font-style="normal" >20</text>
<text transform="translate(58.6 922.5) scale(0.97 1)" font-size="14.4" fill="#000" stroke="#000" stroke-width="0.18" text-anchor="end" font-weight="normal" font-style="normal" >0</text>
<path d="M65.5 915.8 L65.5 905.0 L66.5 898.4 L67.5 905.4 L68.5 905.5 L69.5 904.1 L70.5 904.0 L71.6 903.2 L72.7 902.2 L73.8 902.0 L75.2 897.6 L76.5 892.8 L77.7 887.6 L78.8 882.5 L80.0 887.3 L81.0 883.4 L82.0 879.1 L83.8 874.6 L85.0 870.9 L86.3 859.3 L87.5 855.0 L88.5 851.8 L89.5 845.4 L90.5 840.6 L92.0 849.5 L93.2 847.0 L94.5 844.8 L96.2 854.9 L97.5 860.9 L98.7 870.7 L100.0 875.7 L101.3 879.0 L102.5 889.1 L103.8 895.4 L105.0 898.9 L106.3 904.3 L107.5 907.7 L108.5 907.0 L109.5 909.0 L110.5 911.6 L111.5 912.7 L112.5 913.2 L113.6 913.6 L114.6 912.6 L115.7 912.9 L116.8 913.6 L117.9 915.0 L118.9 915.7 L120.0 915.5 L120.0 915.8 Z" stroke="none" stroke-width="1" fill="#e4e4e4" stroke-linejoin="round" />
<path d="M65.5 905.0 L66.5 898.4 L67.5 905.4 L68.5 905.5 L69.5 904.1 L70.5 904.0 L71.6 903.2 L72.7 902.2 L73.8 902.0 L75.2 897.6 L76.5 892.8 L77.7 887.6 L78.8 882.5 L80.0 887.3 L81.0 883.4 L82.0 879.1 L83.8 874.6 L85.0 870.9 L86.3 859.3 L87.5 855.0 L88.5 851.8 L89.5 845.4 L90.5 840.6 L92.0 849.5 L93.2 847.0 L94.5 844.8 L96.2 854.9 L97.5 860.9 L98.7 870.7 L100.0 875.7 L101.3 879.0 L102.5 889.1 L103.8 895.4 L105.0 898.9 L106.3 904.3 L107.5 907.7 L108.5 907.0 L109.5 909.0 L110.5 911.6 L111.5 912.7 L112.5 913.2 L113.6 913.6 L114.6 912.6 L115.7 912.9 L116.8 913.6 L117.9 915.0 L118.9 915.7 L120.0 915.5" stroke="#8c8c8c" stroke-width="1.1" fill="none" stroke-linejoin="round" />
<path d="M65.8 908.0 L66.6 914.7 L67.7 913.7 L68.9 912.4 L70.0 912.0 L71.3 911.0 L72.5 910.5 L73.8 909.1 L74.9 909.6 L75.9 906.5 L77.0 906.8 L78.0 905.1 L79.0 902.0 L80.0 900.5 L81.3 897.9 L82.5 893.1 L83.8 890.4 L85.0 885.5 L86.3 877.9 L87.5 875.0 L88.7 870.8 L90.0 861.7 L91.2 856.9 L92.5 852.7 L93.7 841.5 L95.0 837.1 L96.2 833.7 L97.5 830.9 L99.0 820.3 L100.8 809.6 L101.7 820.0 L102.5 829.5 L103.8 837.0 L105.0 845.9 L106.2 856.9 L107.5 867.6 L108.8 872.5 L110.0 879.0 L111.0 880.5 L112.0 882.4 L113.0 883.3 L114.0 881.0 L115.0 878.4 L116.0 882.7 L117.0 888.1 L118.0 891.0 L119.1 896.8 L120.2 903.0 L121.2 904.4 L122.5 907.6 L123.7 911.5 L125.0 913.0 L126.2 913.1 L127.3 915.8 L128.5 915.8" stroke="#555" stroke-width="1.1" fill="none" stroke-linejoin="round" />
<path d="M64 778.3 L202.2 778.3 L202.2 916.3" stroke="#8a8a8a" stroke-width="1" fill="none"/>
<line x1="64" y1="777.8" x2="64" y2="916.8" stroke="#333" stroke-width="1.4" />
<line x1="63.3" y1="916.3" x2="203" y2="916.3" stroke="#333" stroke-width="1.2" />
<text x="115.2" y="845" font-size="21" fill="#000" stroke="#000" stroke-width="0.18" text-anchor="start" font-weight="normal" font-style="normal" >8.4%</text>
<line x1="111.5" y1="863" x2="176" y2="863" stroke="#ddd" stroke-width="1" />
<text x="66.3" y="939.2" font-size="14" fill="#000" stroke="#000" stroke-width="0.18">10<tspan dy="-5" font-size="14">1</tspan></text>
<text x="88.8" y="939.2" font-size="14" fill="#000" stroke="#000" stroke-width="0.18">10<tspan dy="-5" font-size="14">2</tspan></text>
<text x="116.2" y="939.2" font-size="14" fill="#000" stroke="#000" stroke-width="0.18">10<tspan dy="-5" font-size="14">3</tspan></text>
<text x="143.6" y="939.2" font-size="14" fill="#000" stroke="#000" stroke-width="0.18">10<tspan dy="-5" font-size="14">4</tspan></text>
<path d="M210.4 917.5 L210.4 904.6 L212.0 899.1 L213.0 903.1 L214.0 905.0 L215.0 905.0 L216.0 906.3 L217.0 905.5 L218.0 906.9 L219.0 904.0 L220.0 899.4 L221.0 897.4 L222.1 894.5 L223.1 888.3 L224.2 885.5 L226.0 887.3 L227.4 883.8 L228.8 879.4 L229.9 871.9 L231.0 861.3 L232.2 852.6 L233.5 844.1 L235.0 842.8 L236.5 852.8 L237.5 850.8 L238.5 848.5 L239.5 848.0 L240.5 846.9 L242.0 855.7 L243.3 860.2 L244.5 871.4 L245.8 875.9 L246.9 878.9 L247.9 888.9 L249.0 892.8 L250.0 896.0 L251.0 902.4 L252.0 905.3 L253.0 905.9 L254.0 908.6 L255.0 910.8 L256.0 912.9 L257.0 911.6 L258.1 914.3 L259.1 914.0 L260.2 915.3 L261.2 916.6 L262.4 916.9 L263.6 916.6 L264.8 916.4 L266.0 917.5 L266.0 917.5 Z" stroke="none" stroke-width="1" fill="#e4e4e4" stroke-linejoin="round" />
<path d="M210.4 904.6 L212.0 899.1 L213.0 903.1 L214.0 905.0 L215.0 905.0 L216.0 906.3 L217.0 905.5 L218.0 906.9 L219.0 904.0 L220.0 899.4 L221.0 897.4 L222.1 894.5 L223.1 888.3 L224.2 885.5 L226.0 887.3 L227.4 883.8 L228.8 879.4 L229.9 871.9 L231.0 861.3 L232.2 852.6 L233.5 844.1 L235.0 842.8 L236.5 852.8 L237.5 850.8 L238.5 848.5 L239.5 848.0 L240.5 846.9 L242.0 855.7 L243.3 860.2 L244.5 871.4 L245.8 875.9 L246.9 878.9 L247.9 888.9 L249.0 892.8 L250.0 896.0 L251.0 902.4 L252.0 905.3 L253.0 905.9 L254.0 908.6 L255.0 910.8 L256.0 912.9 L257.0 911.6 L258.1 914.3 L259.1 914.0 L260.2 915.3 L261.2 916.6 L262.4 916.9 L263.6 916.6 L264.8 916.4 L266.0 917.5" stroke="#8c8c8c" stroke-width="1.1" fill="none" stroke-linejoin="round" />
<path d="M210.4 910.0 L211.5 915.9 L212.6 915.7 L213.7 916.6 L214.8 914.9 L215.8 915.0 L216.9 915.9 L218.0 914.1 L219.0 914.5 L220.0 914.4 L221.0 913.4 L222.0 911.6 L223.3 910.7 L224.5 909.2 L225.8 910.0 L227.0 906.9 L228.1 903.6 L229.2 899.6 L230.4 896.7 L231.4 892.7 L232.5 886.3 L233.5 881.7 L234.5 877.1 L235.5 870.3 L236.5 865.6 L237.5 861.8 L238.6 853.6 L239.6 851.3 L240.7 847.7 L241.8 843.3 L243.5 828.9 L245.2 814.4 L246.8 825.5 L248.2 831.0 L249.8 831.7 L251.5 848.9 L252.8 858.8 L254.0 869.5 L255.2 876.4 L256.5 883.0 L257.8 878.4 L259.0 871.4 L260.2 865.6 L261.5 858.5 L262.8 852.6 L264.0 846.5 L265.0 842.2 L266.0 837.7 L267.3 831.3 L268.8 841.7 L269.9 855.6 L271.0 867.2 L272.0 874.1 L273.0 888.8 L274.0 894.5 L275.0 897.9 L276.0 905.3 L277.0 910.1 L278.1 910.7 L279.1 914.7 L280.1 917.2 L281.2 917.5" stroke="#555" stroke-width="1.1" fill="none" stroke-linejoin="round" />
<path d="M208.5 918.5 L208.5 778.5 L348.5 778.5 L348.5 918.5" stroke="#444" stroke-width="1.1" fill="none"/>
<line x1="208.5" y1="918.5" x2="348.5" y2="918.5" stroke="#333" stroke-width="1.1" />
<line x1="208.9" y1="778.5" x2="208.9" y2="918.5" stroke="#333" stroke-width="2" />
<text x="263.8" y="819.2" font-size="21" fill="#000" stroke="#000" stroke-width="0.18" text-anchor="start" font-weight="normal" font-style="normal" >22.6%</text>
<line x1="258" y1="827.7" x2="327" y2="827.7" stroke="#ddd" stroke-width="1" />
<text x="217.9" y="942" font-size="14" fill="#000" stroke="#000" stroke-width="0.18">10<tspan dy="-5" font-size="14">1</tspan></text>
<text x="240.6" y="942" font-size="14" fill="#000" stroke="#000" stroke-width="0.18">10<tspan dy="-5" font-size="14">2</tspan></text>
<text x="267.2" y="942" font-size="14" fill="#000" stroke="#000" stroke-width="0.18">10<tspan dy="-5" font-size="14">3</tspan></text>
<text x="294.6" y="942" font-size="14" fill="#000" stroke="#000" stroke-width="0.18">10<tspan dy="-5" font-size="14">4</tspan></text>
<text transform="translate(40.8 964.4) scale(1.076 1)" font-size="22" fill="#000" stroke="#000" stroke-width="0.18" text-anchor="start" font-weight="normal" font-style="normal" >active caspase-3</text>
<line x1="223" y1="959" x2="325.3" y2="959" stroke="#dedede" stroke-width="1" />
<path d="M346.5 959.0 L328.3 952.5 L331.3 959.0 L328.3 965.5 Z" stroke="none" stroke-width="1" fill="#1c1c1c" stroke-linejoin="round" />
<line x1="68" y1="916.9" x2="68" y2="918.9" stroke="#888" stroke-width="0.7" />
<line x1="74" y1="916.9" x2="74" y2="918.9" stroke="#888" stroke-width="0.7" />
<line x1="80" y1="916.9" x2="80" y2="918.9" stroke="#888" stroke-width="0.7" />
<line x1="86" y1="916.9" x2="86" y2="918.9" stroke="#888" stroke-width="0.7" />
<line x1="92" y1="916.9" x2="92" y2="918.9" stroke="#888" stroke-width="0.7" />
<line x1="98" y1="916.9" x2="98" y2="918.9" stroke="#888" stroke-width="0.7" />
<line x1="104" y1="916.9" x2="104" y2="918.9" stroke="#888" stroke-width="0.7" />
<line x1="110" y1="916.9" x2="110" y2="918.9" stroke="#888" stroke-width="0.7" />
<line x1="116" y1="916.9" x2="116" y2="918.9" stroke="#888" stroke-width="0.7" />
<line x1="122" y1="916.9" x2="122" y2="918.9" stroke="#888" stroke-width="0.7" />
<line x1="128" y1="916.9" x2="128" y2="918.9" stroke="#888" stroke-width="0.7" />
<line x1="134" y1="916.9" x2="134" y2="918.9" stroke="#888" stroke-width="0.7" />
<line x1="140" y1="916.9" x2="140" y2="918.9" stroke="#888" stroke-width="0.7" />
<line x1="146" y1="916.9" x2="146" y2="918.9" stroke="#888" stroke-width="0.7" />
<line x1="152" y1="916.9" x2="152" y2="918.9" stroke="#888" stroke-width="0.7" />
<line x1="158" y1="916.9" x2="158" y2="918.9" stroke="#888" stroke-width="0.7" />
<line x1="164" y1="916.9" x2="164" y2="918.9" stroke="#888" stroke-width="0.7" />
<line x1="170" y1="916.9" x2="170" y2="918.9" stroke="#888" stroke-width="0.7" />
<line x1="176" y1="916.9" x2="176" y2="918.9" stroke="#888" stroke-width="0.7" />
<line x1="182" y1="916.9" x2="182" y2="918.9" stroke="#888" stroke-width="0.7" />
<line x1="188" y1="916.9" x2="188" y2="918.9" stroke="#888" stroke-width="0.7" />
<line x1="194" y1="916.9" x2="194" y2="918.9" stroke="#888" stroke-width="0.7" />
<line x1="213" y1="919.1" x2="213" y2="921.1" stroke="#888" stroke-width="0.7" />
<line x1="219" y1="919.1" x2="219" y2="921.1" stroke="#888" stroke-width="0.7" />
<line x1="225" y1="919.1" x2="225" y2="921.1" stroke="#888" stroke-width="0.7" />
<line x1="231" y1="919.1" x2="231" y2="921.1" stroke="#888" stroke-width="0.7" />
<line x1="237" y1="919.1" x2="237" y2="921.1" stroke="#888" stroke-width="0.7" />
<line x1="243" y1="919.1" x2="243" y2="921.1" stroke="#888" stroke-width="0.7" />
<line x1="249" y1="919.1" x2="249" y2="921.1" stroke="#888" stroke-width="0.7" />
<line x1="255" y1="919.1" x2="255" y2="921.1" stroke="#888" stroke-width="0.7" />
<line x1="261" y1="919.1" x2="261" y2="921.1" stroke="#888" stroke-width="0.7" />
<line x1="267" y1="919.1" x2="267" y2="921.1" stroke="#888" stroke-width="0.7" />
<line x1="273" y1="919.1" x2="273" y2="921.1" stroke="#888" stroke-width="0.7" />
<line x1="279" y1="919.1" x2="279" y2="921.1" stroke="#888" stroke-width="0.7" />
<line x1="285" y1="919.1" x2="285" y2="921.1" stroke="#888" stroke-width="0.7" />
<line x1="291" y1="919.1" x2="291" y2="921.1" stroke="#888" stroke-width="0.7" />
<line x1="297" y1="919.1" x2="297" y2="921.1" stroke="#888" stroke-width="0.7" />
<line x1="303" y1="919.1" x2="303" y2="921.1" stroke="#888" stroke-width="0.7" />
<line x1="309" y1="919.1" x2="309" y2="921.1" stroke="#888" stroke-width="0.7" />
<line x1="315" y1="919.1" x2="315" y2="921.1" stroke="#888" stroke-width="0.7" />
<line x1="321" y1="919.1" x2="321" y2="921.1" stroke="#888" stroke-width="0.7" />
<line x1="327" y1="919.1" x2="327" y2="921.1" stroke="#888" stroke-width="0.7" />
<line x1="333" y1="919.1" x2="333" y2="921.1" stroke="#888" stroke-width="0.7" />
<line x1="339" y1="919.1" x2="339" y2="921.1" stroke="#888" stroke-width="0.7" />
<line x1="345" y1="919.1" x2="345" y2="921.1" stroke="#888" stroke-width="0.7" />
</svg>
</body></html>
